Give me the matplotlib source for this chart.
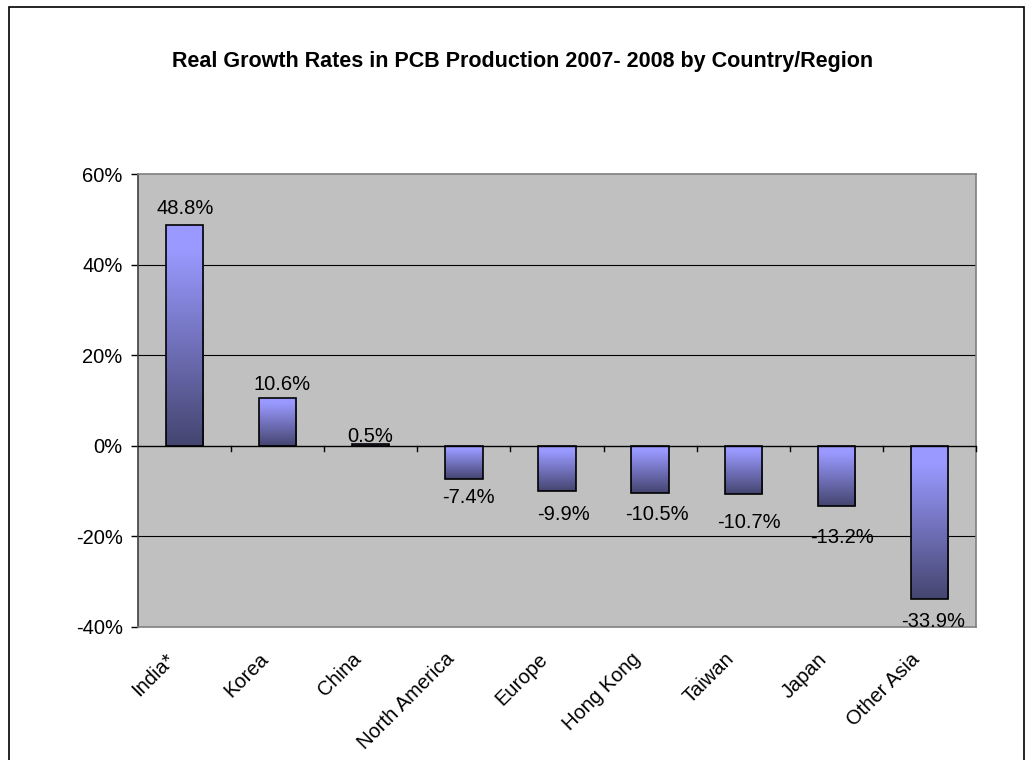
import matplotlib
matplotlib.use("Agg")
import matplotlib.pyplot as plt
import numpy as np
from matplotlib.patches import Rectangle
from matplotlib.colors import LinearSegmentedColormap
from matplotlib.ticker import FixedLocator, FuncFormatter

categories = ["India*", "Korea", "China", "North America", "Europe",
              "Hong Kong", "Taiwan", "Japan", "Other Asia"]
values = [48.8, 10.6, 0.5, -7.4, -9.9, -10.5, -10.7, -13.2, -33.9]
y_ticks = [-40, -20, 0, 20, 40, 60]
title = "Real Growth Rates in PCB Production 2007- 2008 by Country/Region"

# per-label nudges of the data labels (pixels; dx right, dy down), as placed in the original
label_dx = [1, 4, -1, 5, 7, 7, 6, 6, 4]
label_dy = [1, 3.5, 10, -2, 4, 1, 8, 11.5, 2.5]

plt.rcParams['font.family'] = ['Liberation Sans', 'DejaVu Sans']

W, H = 1025, 760
fig = plt.figure(figsize=(W / 100, H / 100), dpi=100)
fig.patch.set_facecolor('white')

# plot area in pixels: x 138-976, y 174-627
left, right, top, bottom = 138, 976, 174, 627
ax = fig.add_axes([left / W, 1 - bottom / H, (right - left) / W, (bottom - top) / H])
ax.set_facecolor('#C0C0C0')

n = len(categories)
FS = 14.5
PX = 0.72  # points per pixel at dpi 100

# gridlines
for t in y_ticks:
    if -40 < t < 60 and t != 0:
        ax.axhline(t, color='black', lw=0.8, zorder=1)
ax.axhline(0, color='black', lw=1.0, zorder=4)

cmap = LinearSegmentedColormap.from_list(
    'g', [(0.0, (0.60, 0.60, 1.0)), (0.12, (0.60, 0.60, 1.0)), (1.0, (0.27, 0.27, 0.44))])
grad = np.linspace(0, 1, 256).reshape(-1, 1)

bw = 0.4
for i, v in enumerate(values):
    x0 = i + 0.5 - bw / 2
    y_top = max(v, 0)
    y_bot = min(v, 0)
    im = ax.imshow(grad, cmap=cmap, aspect='auto', origin='upper',
                   extent=[x0, x0 + bw, y_bot, y_top], zorder=2)
    rect = Rectangle((x0, y_bot), bw, y_top - y_bot, facecolor='none',
                     edgecolor='black', lw=1.2, zorder=3)
    ax.add_patch(rect)
    im.set_clip_path(rect)
    label = f"{v:.1f}%"
    dx = label_dx[i] * PX
    dy = -label_dy[i] * PX
    if v >= 0:
        ax.annotate(label, (i + 0.5, v), xytext=(dx, 5.5 + dy), textcoords='offset points',
                    ha='center', va='bottom', fontsize=FS, zorder=5)
    else:
        ax.annotate(label, (i + 0.5, v), xytext=(dx, -7.5 + dy), textcoords='offset points',
                    ha='center', va='top', fontsize=FS, zorder=5)

ax.set_xlim(0, n)
ax.set_ylim(-40, 60)

# y axis
ax.yaxis.set_major_locator(FixedLocator(y_ticks))
ax.yaxis.set_major_formatter(FuncFormatter(lambda v, p: f"{v:.0f}%"))
ax.tick_params(axis='y', direction='out', length=5, width=1, color='black',
               labelsize=FS, pad=6)

# x axis: tick marks drawn on zero line
ax.set_xticks(np.arange(n) + 0.5)
ax.set_xticklabels([])
ax.tick_params(axis='x', length=0)
for k in range(1, n + 1):
    ax.plot([k, k], [0, -1.2], color='black', lw=1, zorder=4, clip_on=False)

for s in ['top', 'right', 'bottom']:
    ax.spines[s].set_color('#808080')
    ax.spines[s].set_linewidth(1.2)
ax.spines['left'].set_color('#404040')
ax.spines['left'].set_linewidth(1.2)

# category labels rotated 45
for i, c in enumerate(categories):
    ax.annotate(c, (i + 0.5, -40), xytext=(-9, -21), textcoords='offset points',
                rotation=45, rotation_mode='anchor', ha='right', va='center',
                fontsize=FS, annotation_clip=False)

fig.text(523 / W, 1 - 62 / H, title, ha='center', va='center',
         fontsize=15.5, fontweight='bold')

# figure border
border = Rectangle((9 / W, -0.05), (1024 - 9) / W, (1 - 7 / H) + 0.05,
                   transform=fig.transFigure, facecolor='none', edgecolor='black',
                   lw=1.2, clip_on=False)
fig.patches.append(border)

fig.savefig('out.png', dpi=100)
